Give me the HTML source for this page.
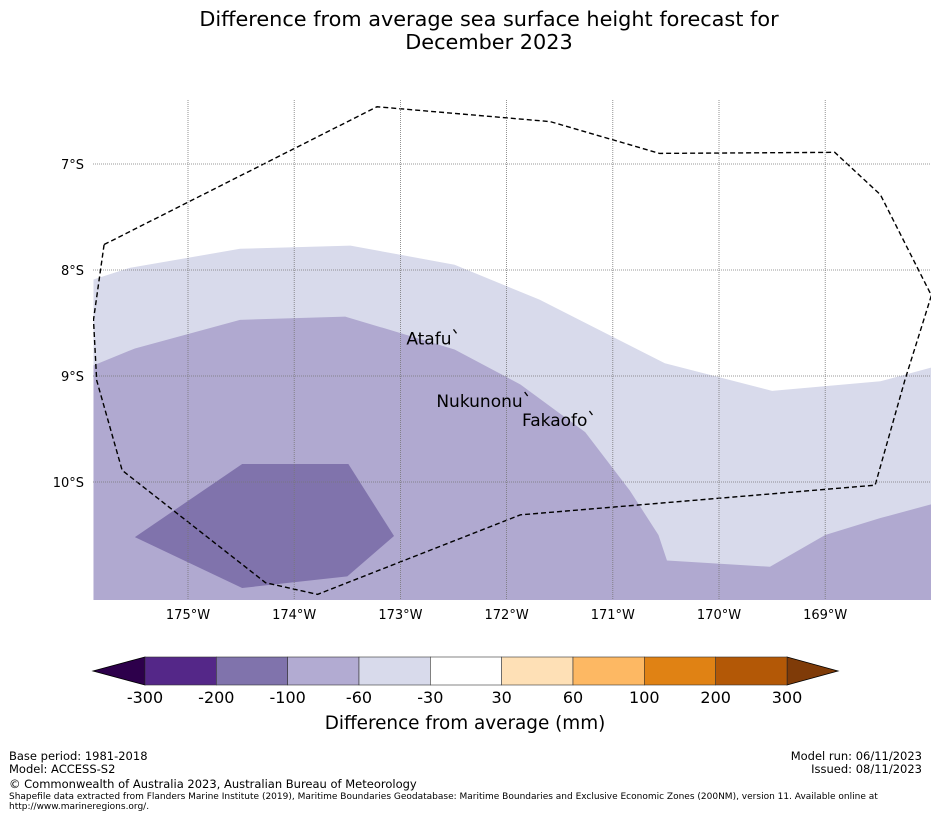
<!DOCTYPE html>
<html><head><meta charset="utf-8"><style>
body{margin:0;background:#fff;font-family:"DejaVu Sans","Liberation Sans",sans-serif;}
svg{display:block}
</style></head><body>
<svg width="931" height="816" viewBox="0 0 931 816" id="svg">
<text x="489" y="26" text-anchor="middle" font-size="20.8">Difference from average sea surface height forecast for</text>
<text x="489" y="49" text-anchor="middle" font-size="20.8">December 2023</text>
<defs><clipPath id="mapclip"><rect x="93" y="100" width="838" height="500"/></clipPath></defs>
<g id="map" clip-path="url(#mapclip)"></g>
<g id="grid"></g>
<g id="labels"></g>
<g id="cbar"></g>
<text x="465" y="729" text-anchor="middle" font-size="18.4">Difference from average (mm)</text>
<g font-family="'DejaVu Sans','Liberation Sans',sans-serif" font-size="11.5">
<text x="9" y="760">Base period: 1981-2018</text>
<text x="9" y="773">Model: ACCESS-S2</text>
<text x="922" y="760" text-anchor="end">Model run: 06/11/2023</text>
<text x="922" y="773" text-anchor="end">Issued: 08/11/2023</text>
<text x="9" y="788">© Commonwealth of Australia 2023, Australian Bureau of Meteorology</text>
<text x="9" y="799" font-size="9">Shapefile data extracted from Flanders Marine Institute (2019), Maritime Boundaries Geodatabase: Maritime Boundaries and Exclusive Economic Zones (200NM), version 11. Available online at</text>
<text x="9" y="809" font-size="9">http://www.marineregions.org/.</text>
</g>
</svg>
<script>
const lonTicks=[-175,-174,-173,-172,-171,-170,-169];
const lonLabels=["175°W","174°W","173°W","172°W","171°W","170°W","169°W"];
const latTicks=[7,8,9,10];
const latLabels=["7°S","8°S","9°S","10°S"];
const lightRegion=[[-175.89,8.09],[-175.55,7.98],[-174.51,7.80],[-173.47,7.77],[-172.49,7.95],[-171.69,8.28],[-171.12,8.57],[-170.51,8.88],[-169.50,9.14],[-168.48,9.05],[-168.00,8.92],[-168.00,11.2],[-175.89,11.2]];
const mediumRegion=[[-175.89,8.90],[-175.50,8.74],[-174.51,8.47],[-173.52,8.44],[-173.15,8.55],[-172.49,8.75],[-171.87,9.08],[-171.26,9.53],[-170.84,10.08],[-170.57,10.50],[-170.49,10.74],[-169.52,10.80],[-169.00,10.50],[-168.48,10.34],[-168.00,10.21],[-168.00,11.2],[-175.89,11.2]];
const darkRegion=[[-175.50,10.52],[-174.49,9.83],[-173.49,9.83],[-173.06,10.51],[-173.50,10.89],[-174.49,11.00]];
const eez=[[-175.79,7.76],[-173.22,6.46],[-171.59,6.60],[-170.56,6.90],[-168.91,6.89],[-168.48,7.29],[-168.00,8.24],[-168.25,9.04],[-168.53,10.03],[-171.87,10.31],[-173.78,11.06],[-174.27,10.95],[-175.62,9.89],[-175.86,9.04],[-175.89,8.47],[-175.79,7.76]];
const islandNames=["Atafu","Nukunonu","Fakaofo"];
const islandLon=[-172.50,-171.83,-171.22];
const islandLat=[8.57,9.16,9.34];
const cbBounds=["-300","-200","-100","-60","-30","30","60","100","200","300"];
const cbColors=["#542788","#8073ac","#b2abd2","#d8daeb","#ffffff","#fee0b6","#fdb863","#e08214","#b35806"];
const ns="http://www.w3.org/2000/svg";
const X=lon=>188+(lon+175)*106.2;
const Y=lat=>164+(lat-7)*106;
function mk(t,a,p){const e=document.createElementNS(ns,t);for(const k in a)e.setAttribute(k,a[k]);p.appendChild(e);return e;}
const map=document.getElementById('map');
mk('rect',{x:93,y:100,width:838,height:500,fill:'#ffffff'},map);
function poly(pts,fill,name){const e=mk('polygon',{points:pts.map(p=>X(p[0])+','+Y(p[1])).join(' '),fill:fill},map);

return e;}
poly(lightRegion,'#d8daeb','region-minus30-to-60');
poly(mediumRegion,'#b0a9d0','region-minus60-to-100');
poly(darkRegion,'#8073ac','region-minus100-to-200');
const grid=document.getElementById('grid');
lonTicks.forEach((l,i)=>{mk('line',{x1:X(l),x2:X(l),y1:100,y2:600,stroke:'#777','stroke-width':0.8,'stroke-dasharray':'1,1'},grid);
const t=mk('text',{x:X(l),y:619,'text-anchor':'middle','font-size':13},grid);t.textContent=lonLabels[i];

});
latTicks.forEach((l,i)=>{mk('line',{x1:93,x2:931,y1:Y(l),y2:Y(l),stroke:'#777','stroke-width':0.8,'stroke-dasharray':'1,1'},grid);
const t=mk('text',{x:84,y:Y(l)+5,'text-anchor':'end','font-size':13},grid);t.textContent=latLabels[i];

});
const e=mk('polyline',{points:eez.map(p=>X(p[0])+','+Y(p[1])).join(' '),fill:'none',stroke:'#000','stroke-width':1.4,'stroke-dasharray':'5,3'},map);


const lab=document.getElementById('labels');
islandNames.forEach((n,i)=>{const x=X(islandLon[i]),y=Y(islandLat[i]);
mk('text',{x:x-2,y:y+14,'text-anchor':'end','font-size':17},lab).textContent=n;
const m=mk('path',{d:`M${x} ${y-1} l3 4`,stroke:'#000','stroke-width':1.3,fill:'none'},lab);

});
const cb=document.getElementById('cbar');
const cx0=145,cx1=787,cy=657,ch=28,w=(cx1-cx0)/cbColors.length;
mk('polygon',{points:`${cx0},${cy} 93,${cy+ch/2} ${cx0},${cy+ch}`,fill:'#2d004b',stroke:'#000','stroke-width':0.8},cb);
mk('polygon',{points:`${cx1},${cy} 838,${cy+ch/2} ${cx1},${cy+ch}`,fill:'#7f3b08',stroke:'#000','stroke-width':0.8},cb);
cbColors.forEach((c,i)=>{const r=mk('rect',{x:cx0+i*w,y:cy,width:w,height:ch,fill:c,stroke:'#333','stroke-width':0.6},cb);

});
cbBounds.forEach((b,i)=>{const t=mk('text',{x:cx0+i*w,y:703,'text-anchor':'middle','font-size':16},cb);t.textContent=b;

});
</script>
</body></html>
